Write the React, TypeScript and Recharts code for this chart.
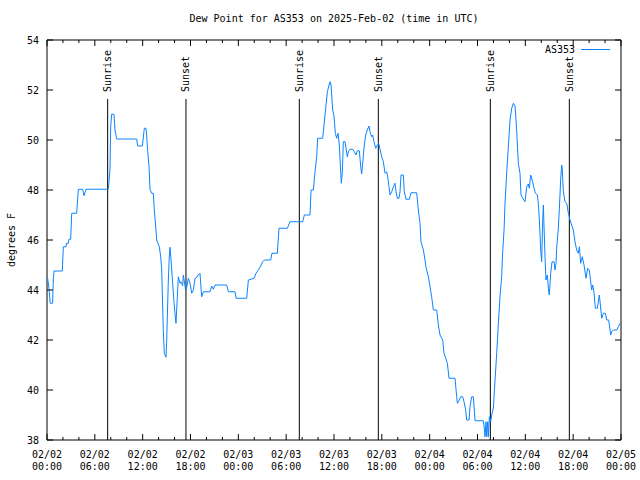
import {
  LineChart,
  Line,
  XAxis,
  YAxis,
  ReferenceLine,
  ReferenceDot,
  ReferenceArea,
} from 'recharts';

// hours since 2025-02-02 00:00 UTC
const HOURS = [
  0.08, 0.25, 0.4, 0.7, 0.8, 0.88, 1.92, 2.05, 2.38, 2.45, 2.68, 2.75, 2.97, 3.1, 3.72, 3.93, 4.47, 4.64, 4.89,
  7.69, 7.9, 7.99, 8.11, 8.4, 8.53, 8.74, 11.25, 11.37, 11.96, 12.21, 12.42, 12.5, 12.63, 12.8, 12.92, 13.13,
  13.34, 13.46, 13.67, 13.76, 14.09, 14.26, 14.38, 14.59, 14.72, 14.93, 15.01, 15.22, 15.34, 15.43, 15.55,
  15.76, 15.93, 16.05, 16.18, 16.35, 16.47, 16.68, 16.81, 17.02, 17.1, 17.39, 17.52, 17.73, 17.94, 18.15,
  18.36, 18.57, 18.78, 18.98, 19.19, 19.28, 19.4, 19.61, 20.45, 20.66, 20.87, 21.08, 22.54, 22.75, 23.59,
  23.71, 25.05, 25.26, 25.97, 26.22, 26.51, 26.72, 27.05, 27.26, 28.06, 28.22, 28.89, 29.1, 30.15, 30.48,
  32.07, 32.28, 32.99, 33.12, 33.41, 33.62, 33.83, 33.95, 34.58, 34.75, 34.96, 35.17, 35.38, 35.5, 35.63,
  35.83, 36.0, 36.17, 36.34, 36.5, 36.67, 36.84, 36.92, 37.05, 37.17, 37.38, 37.51, 37.67, 37.8, 38.01,
  38.34, 38.55, 38.76, 38.93, 39.18, 39.35, 39.47, 39.6, 39.76, 39.97, 40.18, 40.39, 40.52, 40.73, 40.85,
  41.02, 41.23, 41.44, 41.6, 41.77, 41.98, 42.19, 42.4, 42.61, 42.73, 42.9, 43.03, 43.24, 43.44, 43.65,
  43.78, 43.95, 44.15, 44.28, 44.41, 44.7, 44.82, 45.03, 45.45, 45.66, 46.37, 46.58, 46.79, 46.91, 47.21,
  47.42, 47.54, 47.84, 48.04, 48.25, 48.46, 48.88, 49.09, 49.3, 49.63, 49.8, 50.22, 50.43, 51.18, 51.39,
  51.47, 51.72, 51.89, 52.14, 52.31, 52.52, 52.64, 52.94, 53.06, 53.27, 53.48, 53.6, 53.69, 54.73, 54.86,
  54.94, 55.07, 55.15, 55.28, 55.36, 55.49, 55.65, 55.78, 55.99, 56.2, 56.41, 56.62, 56.82, 57.03, 57.16,
  57.33, 57.45, 57.66, 57.87, 58.08, 58.29, 58.5, 58.71, 58.91, 59.12, 59.33, 59.46, 59.67, 59.96, 60.17,
  60.38, 60.5, 60.67, 60.92, 61.09, 61.26, 61.51, 61.63, 61.76, 61.93, 62.05, 62.18, 62.26, 62.34, 62.47,
  62.59, 62.76, 62.89, 63.01, 63.18, 63.35, 63.6, 63.72, 63.85, 63.93, 64.14, 64.27, 64.43, 64.56, 64.64,
  64.77, 64.98, 65.19, 65.4, 65.61, 65.81, 66.02, 66.23, 66.44, 66.65, 66.78, 66.94, 67.15, 67.36, 67.61,
  67.82, 68.03, 68.2, 68.32, 68.45, 68.62, 68.78, 69.03, 69.28, 69.37, 69.58, 69.79, 70.04, 70.21, 70.46,
  70.71, 70.83, 71.04, 71.46, 71.67, 71.88,
];

const DEW_F = [
  44.47, 44.07, 43.47, 43.47, 44.47, 44.76, 44.76, 45.73, 45.73, 45.87, 45.87, 46.03, 46.03, 47.07, 47.07, 48.03, 48.03, 47.77, 48.03,
  48.03, 48.8, 50.53, 51.03, 51.03, 50.4, 50.04, 50.04, 49.76, 49.76, 50.47, 50.47, 50.2, 49.55, 48.93, 48.03, 47.87,
  47.87, 47.2, 46.4, 46.0, 45.73, 45.33, 44.87, 42.33, 41.47, 41.31, 41.93, 44.4, 45.33, 45.71, 45.23,
  44.27, 43.53, 43.07, 42.67, 43.73, 44.53, 44.27, 44.33, 44.17, 44.6, 44.0, 44.1, 44.47, 44.27, 43.87,
  44.0, 44.47, 44.51, 44.6, 44.67, 44.27, 43.73, 43.93, 43.93, 44.16, 44.03, 44.2, 44.2, 43.93, 43.93,
  43.67, 43.67, 44.4, 44.47, 44.67, 44.8, 44.91, 45.13, 45.2, 45.2, 45.47, 45.47, 46.47, 46.47, 46.73,
  46.73, 47.0, 47.0, 48.0, 48.0, 48.73, 49.33, 50.07, 50.07, 50.6, 51.27, 51.93, 52.2, 52.33, 52.2,
  51.2, 50.96, 50.27, 50.07, 50.27, 49.8, 48.73, 48.27, 48.73, 49.93, 49.93, 49.67, 49.33, 49.53, 49.63,
  49.63, 49.53, 49.4, 49.57, 49.57, 48.93, 48.64, 49.07, 49.67, 50.2, 50.4, 50.56, 50.33, 50.13, 50.2,
  49.93, 49.67, 49.8, 49.87, 49.63, 49.33, 49.13, 48.67, 48.73, 48.53, 48.13, 47.8, 47.93, 48.13, 48.27,
  47.93, 47.67, 47.67, 47.93, 48.6, 48.6, 47.93, 47.63, 47.63, 47.89, 47.89, 47.2, 46.67, 45.93, 45.6,
  45.2, 44.91, 44.53, 44.13, 43.73, 43.2, 43.2, 42.6, 42.2, 42.0, 41.47, 41.07, 40.47, 40.47, 39.73,
  39.47, 39.6, 39.73, 39.73, 39.53, 39.2, 38.8, 38.8, 39.33, 39.73, 39.73, 39.2, 38.77, 38.77, 38.47,
  38.13, 38.73, 38.13, 38.73, 38.13, 38.93, 38.73, 39.0, 39.27, 40.4, 41.47, 42.67, 43.73, 44.53, 45.53,
  46.4, 47.47, 48.67, 49.73, 50.8, 51.27, 51.47, 51.36, 50.4, 49.07, 48.67, 47.8, 47.67, 47.53, 48.13,
  48.24, 48.07, 48.6, 48.33, 48.07, 47.87, 47.8, 47.47, 46.8, 45.6, 45.13, 46.8, 47.4, 46.6, 45.33,
  44.4, 44.6, 44.07, 43.8, 44.67, 45.13, 45.13, 44.8, 45.07, 45.67, 46.47, 47.27, 48.4, 49.0, 48.8,
  47.93, 47.53, 47.47, 47.07, 46.8, 46.6, 46.4, 45.93, 45.6, 45.47, 45.73, 45.07, 45.33, 45.0, 44.47,
  44.87, 44.8, 44.33, 44.0, 44.2, 43.87, 43.27, 43.27, 43.8, 43.53, 42.87, 43.07, 43.07, 42.8, 42.8,
  42.2, 42.33, 42.4, 42.4, 42.53, 42.67,
];

const SUN_LABELS = ['Sunrise', 'Sunset', 'Sunrise', 'Sunset', 'Sunrise', 'Sunset'];
const SUN_HOURS = [7.61, 17.43, 31.65, 41.56, 55.61, 65.52];
const SUN_LINE_TOP = 51.64;

const X_MAJOR = [0, 6, 12, 18, 24, 30, 36, 42, 48, 54, 60, 66, 72];
const X_MINOR = [2, 4, 8, 10, 14, 16, 20, 22, 26, 28, 32, 34, 38, 40, 44, 46, 50, 52, 56, 58, 62, 64, 68, 70];
const X_DATES = ['02/02', '02/02', '02/02', '02/02', '02/03', '02/03', '02/03', '02/03', '02/04', '02/04', '02/04', '02/04', '02/05'];
const X_TIMES = ['00:00', '06:00', '12:00', '18:00', '00:00', '06:00', '12:00', '18:00', '00:00', '06:00', '12:00', '18:00', '00:00'];
const Y_TICKS = [38, 40, 42, 44, 46, 48, 50, 52, 54];

const TITLE = 'Dew Point for AS353 on 2025-Feb-02 (time in UTC)';
const SERIES = 'AS353';

const FONT = '"DejaVu Sans Mono", monospace';
const LINE_COLOR = '#0a84ff';
const PLOT_W = 574;
const PLOT_H = 400;

const data = HOURS.map((h, i) => ({ h, v: DEW_F[i] }));
const xTicks = [...X_MAJOR, ...X_MINOR].sort((a, b) => a - b);

function XTick({ x, y, payload }: any) {
  const idx = X_MAJOR.indexOf(payload.value);
  const len = idx >= 0 ? 6 : 3;
  return (
    <g>
      <line x1={x} x2={x} y1={y} y2={y - len} stroke="#000" />
      <line x1={x} x2={x} y1={y - PLOT_H} y2={y - PLOT_H + len} stroke="#000" />
      {idx >= 0 && (
        <text x={x} y={y} textAnchor="middle" fontFamily={FONT} fontSize={10} fill="#000">
          <tspan x={x} dy={18}>{X_DATES[idx]}</tspan>
          <tspan x={x} dy={12}>{X_TIMES[idx]}</tspan>
        </text>
      )}
    </g>
  );
}

function YTick({ x, y, payload }: any) {
  const ax = x + 8;
  return (
    <g>
      <line x1={ax} x2={ax + 6} y1={y} y2={y} stroke="#000" />
      <line x1={ax + PLOT_W} x2={ax + PLOT_W - 6} y1={y} y2={y} stroke="#000" />
      <text x={x} y={y} textAnchor="end" dominantBaseline="central" fontFamily={FONT} fontSize={10} fill="#000">
        {payload.value}
      </text>
    </g>
  );
}

function SunLabel(label: string) {
  return (props: any) => {
    const { cx, cy } = props;
    const ty = cy - 7;
    return (
      <text
        x={cx}
        y={ty}
        transform={`rotate(-90 ${cx} ${ty})`}
        textAnchor="start"
        dominantBaseline="central"
        fontFamily={FONT}
        fontSize={10}
        fill="#000"
      >
        {label}
      </text>
    );
  };
}

export default function App() {
  return (
    <div style={{ position: 'relative', width: 640, height: 480, background: '#fff', fontFamily: FONT }}>
      <style>{'body{margin:0}'}</style>
      <div
        style={{
          position: 'absolute',
          top: 12,
          left: 47,
          width: PLOT_W,
          textAlign: 'center',
          fontSize: 10,
          lineHeight: '14px',
        }}
      >
        {TITLE}
      </div>
      <div
        style={{
          position: 'absolute',
          left: 11,
          top: 240,
          transform: 'translate(-50%, -50%) rotate(-90deg)',
          fontSize: 10,
          whiteSpace: 'nowrap',
        }}
      >
        degrees F
      </div>
      <LineChart width={640} height={480} data={data} margin={{ top: 40, right: 19, bottom: 0, left: 0 }}>
        <XAxis
          type="number"
          dataKey="h"
          domain={[0, 72]}
          ticks={xTicks}
          interval={0}
          tick={<XTick />}
          tickLine={false}
          axisLine={false}
          tickSize={0}
          tickMargin={0}
          height={40}
          allowDataOverflow
        />
        <YAxis
          type="number"
          domain={[38, 54]}
          ticks={Y_TICKS}
          interval={0}
          tick={<YTick />}
          tickLine={false}
          axisLine={false}
          tickSize={0}
          tickMargin={8}
          width={47}
          allowDataOverflow
        />
        <ReferenceArea x1={0} x2={72} y1={38} y2={54} fill="none" stroke="#000" strokeWidth={1} />
        {SUN_HOURS.map((h, i) => (
          <ReferenceLine
            key={`l${i}`}
            segment={[
              { x: h, y: SUN_LINE_TOP },
              { x: h, y: 38 },
            ]}
            stroke="#000"
            strokeWidth={1}
          />
        ))}
        {SUN_HOURS.map((h, i) => (
          <ReferenceDot key={`d${i}`} x={h} y={SUN_LINE_TOP} r={0} shape={SunLabel(SUN_LABELS[i])} />
        ))}
        <Line
          type="linear"
          dataKey="v"
          stroke={LINE_COLOR}
          strokeWidth={1}
          dot={false}
          isAnimationActive={false}
        />
      </LineChart>
      <div
        style={{
          position: 'absolute',
          top: 43,
          right: 65,
          fontSize: 10,
          lineHeight: '14px',
        }}
      >
        {SERIES}
      </div>
      <div style={{ position: 'absolute', top: 49, left: 581, width: 29, height: 1, background: LINE_COLOR }} />
    </div>
  );
}
